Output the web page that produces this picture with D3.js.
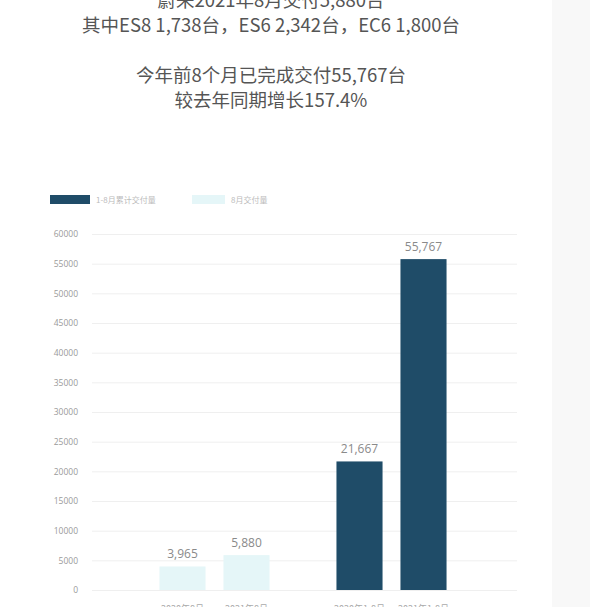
<!DOCTYPE html>
<html lang="zh">
<head>
<meta charset="utf-8">
<title>蔚来交付量</title>
<script src="https://d3js.org/d3.v7.min.js"></script>
<style>
  body, html { margin: 0; padding: 0; width: 100%; height: 100%; overflow: hidden; background: #fff; }
  .title { font: 18.5px "Noto Sans CJK SC", "Noto Sans", sans-serif; fill: #555; text-anchor: middle; }
  .tick text { font: 8.5px "Open Sans", "Noto Sans", sans-serif; fill: #9a9a9a; }
  .legend { font: 8px "Noto Sans CJK SC", sans-serif; fill: #bbb; }
  .value { font: 12px "Open Sans", "Noto Sans", sans-serif; fill: #8a8a8a; text-anchor: middle; }
  .xlabel { font: 9px "Noto Sans CJK SC", sans-serif; fill: #aaa; text-anchor: middle; }
</style>
</head>
<body>
<svg width="590" height="607"></svg>
<script>
// header text
var titleLines = ["蔚来2021年8月交付5,880台", "其中ES8 1,738台，ES6 2,342台，EC6 1,800台", "", "今年前8个月已完成交付55,767台", "较去年同期增长157.4%"];

// two groups of bars, each with 2020 / 2021
var groups = ["8月交付量", "1-8月累计交付量"];
var years = ["2020年", "2021年"];
var monthValues = [3965, 5880];       // 8月交付量
var cumulativeValues = [21667, 55767]; // 1-8月累计交付量
var barLabels = ["2020年8月", "2021年8月", "2020年1-8月", "2021年1-8月"];
var yTicks = [0, 5000, 10000, 15000, 20000, 25000, 30000, 35000, 40000, 45000, 50000, 55000, 60000];

var colors = { "8月交付量": "#e5f6f8", "1-8月累计交付量": "#1f4c68" };

var svg = d3.select("svg");

// greyish strip at the right edge of the screenshot
svg.append("rect").attr("x", 552).attr("y", 0).attr("width", 38).attr("height", 607).attr("fill", "#f8f8f8");

svg.selectAll("text.title")
  .data(titleLines)
  .enter().append("text")
  .attr("class", "title")
  .attr("x", 271)
  .attr("y", function (d, i) { return 7 + i * 25; })
  .text(function (d) { return d; });

var y = d3.scaleLinear().domain([0, 60000]).range([590, 234]);

var x0 = d3.scaleBand().domain(groups).range([126, 480]);
var x1 = d3.scaleBand().domain(years).range([-64, 64]).paddingInner(0.28).paddingOuter(0.14);

// grid + y labels
var yAxis = svg.append("g")
  .attr("transform", "translate(92,0)")
  .call(d3.axisLeft(y).tickValues(yTicks).tickSize(-425).tickPadding(14).tickFormat(d3.format("d")));
yAxis.select(".domain").remove();
yAxis.selectAll(".tick line").attr("stroke", "#efefef");

var data = [];
groups.forEach(function (g, gi) {
  var vals = gi === 0 ? monthValues : cumulativeValues;
  years.forEach(function (yr, yi) {
    data.push({ group: g, year: yr, value: vals[yi], label: barLabels[gi * 2 + yi] });
  });
});

function barX(d) {
  return x0(d.group) + x0.bandwidth() / 2 + x1(d.year);
}

svg.selectAll("rect.bar")
  .data(data)
  .enter().append("rect")
  .attr("class", "bar")
  .attr("x", barX)
  .attr("width", x1.bandwidth())
  .attr("y", function (d) { return y(d.value); })
  .attr("height", function (d) { return y(0) - y(d.value); })
  .attr("fill", function (d) { return colors[d.group]; });

svg.selectAll("text.value")
  .data(data)
  .enter().append("text")
  .attr("class", "value")
  .attr("x", function (d) { return barX(d) + x1.bandwidth() / 2; })
  .attr("y", function (d) { return y(d.value) - 8; })
  .text(function (d) { return d3.format(",")(d.value); });

svg.selectAll("text.xlabel")
  .data(data)
  .enter().append("text")
  .attr("class", "xlabel")
  .attr("x", function (d) { return barX(d) + x1.bandwidth() / 2; })
  .attr("y", 612)
  .text(function (d) { return d.label; });

// legend
var legend = svg.append("g");
var legendItems = [
  { name: "1-8月累计交付量", x: 50, w: 40 },
  { name: "8月交付量", x: 192, w: 33 }
];
legendItems.forEach(function (it) {
  legend.append("rect").attr("x", it.x).attr("y", 195).attr("width", it.w).attr("height", 9).attr("fill", colors[it.name]);
  legend.append("text").attr("class", "legend").attr("x", it.x + it.w + 6).attr("y", 203).text(it.name);
});
</script>
</body>
</html>
